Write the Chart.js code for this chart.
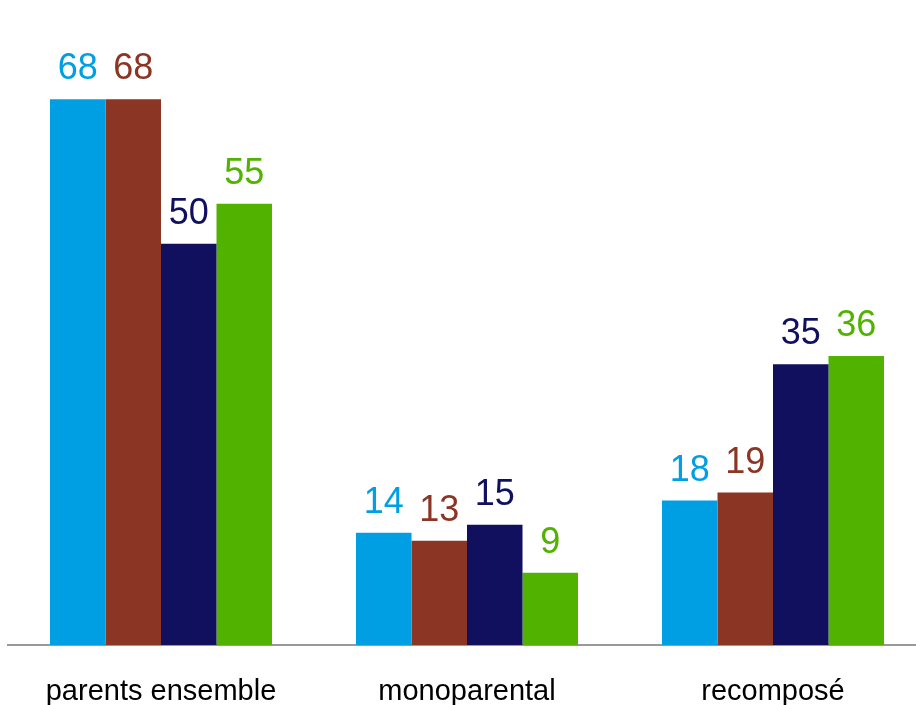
<!DOCTYPE html>
<html>
<head>
<meta charset="utf-8">
<script src="https://cdn.jsdelivr.net/npm/chart.js@4"></script>
<style>
html,body{margin:0;padding:0;background:#fff;overflow:hidden;width:916px;height:705px;}
#wrap{width:926px;height:738px;position:relative;}
</style>
</head>
<body>
<div id="wrap"><canvas id="c" width="926" height="738"></canvas></div>
<script>
const categories = ["parents ensemble", "monoparental", "recomposé"];
const series1 = [68, 14, 18];
const series2 = [68, 13, 19];
const series3 = [50, 15, 35];
const series4 = [55, 9, 36];
const colors = ["#009FE3", "#8B3524", "#10105E", "#52B200"];

const valueLabels = {
  id: 'valueLabels',
  afterDatasetsDraw(chart) {
    const ctx = chart.ctx;
    ctx.save();
    ctx.font = '36px "Liberation Sans", Arial, sans-serif';
    ctx.textAlign = 'center';
    ctx.textBaseline = 'alphabetic';
    chart.data.datasets.forEach((ds, i) => {
      const meta = chart.getDatasetMeta(i);
      ctx.fillStyle = ds.backgroundColor;
      meta.data.forEach((bar, j) => {
        ctx.fillText(String(ds.data[j]), bar.x, bar.y - 20);
      });
    });
    ctx.restore();
  }
};

new Chart(document.getElementById('c'), {
  type: 'bar',
  data: {
    labels: categories,
    datasets: [
      { label: 's1', data: series1, backgroundColor: colors[0] },
      { label: 's2', data: series2, backgroundColor: colors[1] },
      { label: 's3', data: series3, backgroundColor: colors[2] },
      { label: 's4', data: series4, backgroundColor: colors[3] }
    ]
  },
  options: {
    responsive: false,
    animation: false,
    devicePixelRatio: 1,
    layout: { padding: { left: 8, right: 0, top: 3, bottom: 0 } },
    datasets: { bar: { barPercentage: 1, categoryPercentage: 0.7255, borderWidth: 0 } },
    plugins: { legend: { display: false }, tooltip: { enabled: false } },
    scales: {
      x: {
        grid: { display: false, drawTicks: false },
        border: { display: true, color: '#999999', width: 2 },
        ticks: {
          color: '#000000',
          padding: 32,
          font: { family: '"Liberation Sans", Arial, sans-serif', size: 29, lineHeight: 1 }
        }
      },
      y: {
        display: false,
        min: 0,
        max: 80
      }
    }
  },
  plugins: [valueLabels]
});
</script>
</body>
</html>
